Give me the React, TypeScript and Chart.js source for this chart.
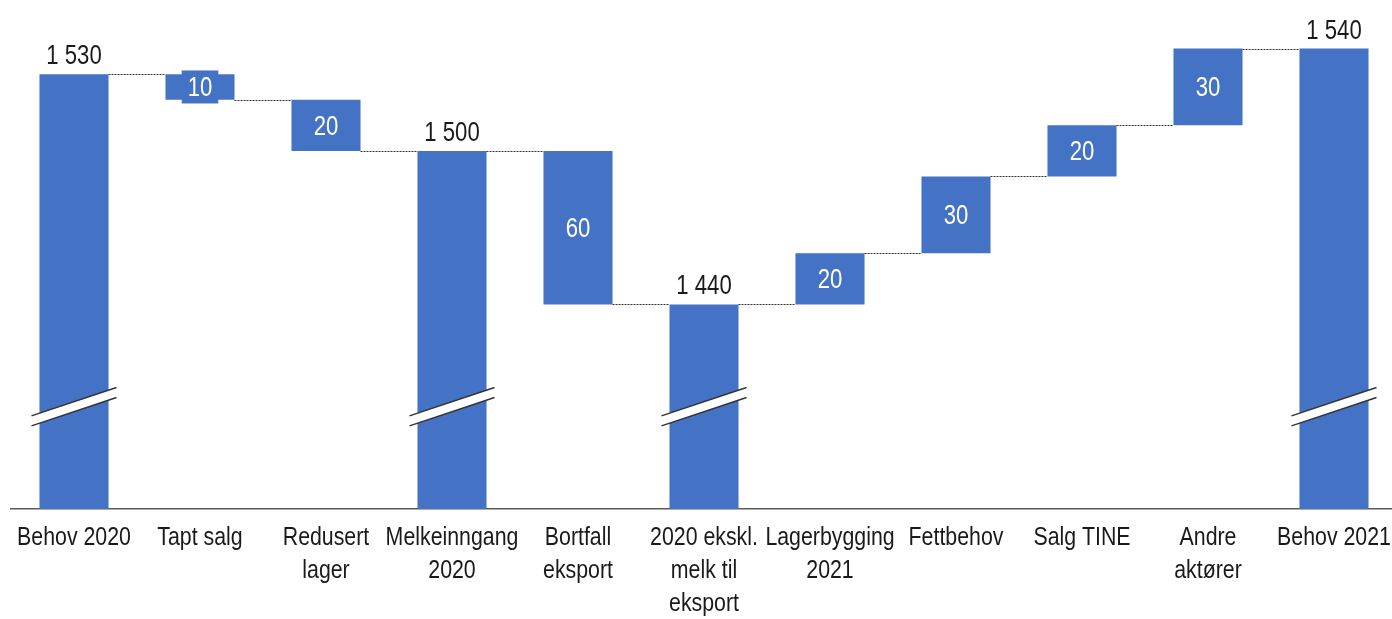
import React, { useEffect, useRef } from "react";
import { Chart, registerables } from "chart.js";

Chart.register(...registerables);

// ---- Data ----
const categories: string[][] = [
  ["Behov 2020"],
  ["Tapt salg"],
  ["Redusert", "lager"],
  ["Melkeinngang", "2020"],
  ["Bortfall", "eksport"],
  ["2020 ekskl.", "melk til", "eksport"],
  ["Lagerbygging", "2021"],
  ["Fettbehov"],
  ["Salg TINE"],
  ["Andre", "aktører"],
  ["Behov 2021"],
];
// totals are absolute levels, the others are changes
const stepValues = [1530, -10, -20, 1500, -60, 1440, 20, 30, 20, 30, 1540];
const isTotal = [true, false, false, true, false, true, false, false, false, false, true];

const axisMin = 1360;
const axisMax = 1559;
const breakValue = 1400;

const BAR_COLOR = "#4472C4";
const FONT = "'Liberation Sans', Arial, sans-serif";
const NARROW = 0.82; // horizontal squeeze to mimic a narrow face

function buildBars(): [number, number][] {
  let run = 0;
  return stepValues.map((v, i) => {
    if (isTotal[i]) {
      run = v;
      return [axisMin, v] as [number, number];
    }
    const start = run;
    run += v;
    return [start, run] as [number, number];
  });
}

function fmt(v: number): string {
  const s = String(Math.abs(v));
  return s.replace(/\B(?=(\d{3})+(?!\d))/g, " ");
}

function narrowText(
  ctx: CanvasRenderingContext2D,
  text: string,
  x: number,
  y: number,
  size: number,
  color: string,
  baseline: CanvasTextBaseline
) {
  ctx.save();
  ctx.font = `${size}px ${FONT}`;
  ctx.fillStyle = color;
  ctx.textAlign = "center";
  ctx.textBaseline = baseline;
  ctx.translate(x, y);
  ctx.scale(NARROW, 1);
  ctx.fillText(text, 0, 0);
  ctx.restore();
}

function narrowWidth(ctx: CanvasRenderingContext2D, text: string, size: number) {
  ctx.save();
  ctx.font = `${size}px ${FONT}`;
  const w = ctx.measureText(text).width * NARROW;
  ctx.restore();
  return w;
}

const waterfallPlugin = {
  id: "waterfallExtras",
  afterDatasetsDraw(chart: any) {
    const ctx: CanvasRenderingContext2D = chart.ctx;
    const meta = chart.getDatasetMeta(0);
    const yScale = chart.scales.y;
    const bars: [number, number][] = chart.data.datasets[0].data;
    const els = meta.data;

    // connectors
    ctx.save();
    ctx.strokeStyle = "#333333";
    ctx.lineWidth = 1;
    ctx.setLineDash([2, 1]);
    for (let i = 0; i < els.length - 1; i++) {
      const a = els[i];
      const b = els[i + 1];
      const level = bars[i][1];
      const y = Math.round(yScale.getPixelForValue(level)) + 0.5;
      ctx.beginPath();
      ctx.moveTo(a.x + a.width / 2, y);
      ctx.lineTo(b.x - b.width / 2, y);
      ctx.stroke();
    }
    ctx.restore();

    // axis breaks on total bars
    ctx.save();
    const yc = yScale.getPixelForValue(breakValue);
    for (let i = 0; i < els.length; i++) {
      if (!isTotal[i]) continue;
      const el = els[i];
      const half = el.width / 2 + 8;
      const slope = 1 / 3;
      const th = 10;
      const xl = el.x - half;
      const xr = el.x + half;
      const yl = yc + half * slope;
      const yr = yc - half * slope;
      ctx.fillStyle = "#ffffff";
      ctx.beginPath();
      ctx.moveTo(xl, yl - th / 2);
      ctx.lineTo(xr, yr - th / 2);
      ctx.lineTo(xr, yr + th / 2);
      ctx.lineTo(xl, yl + th / 2);
      ctx.closePath();
      ctx.fill();
      ctx.strokeStyle = "#333333";
      ctx.lineWidth = 1.5;
      ctx.beginPath();
      ctx.moveTo(xl, yl - th / 2);
      ctx.lineTo(xr, yr - th / 2);
      ctx.moveTo(xl, yl + th / 2);
      ctx.lineTo(xr, yr + th / 2);
      ctx.stroke();
    }
    ctx.restore();

    // value labels
    for (let i = 0; i < els.length; i++) {
      const el = els[i];
      const [lo, hi] = bars[i];
      if (isTotal[i]) {
        narrowText(ctx, fmt(hi), el.x, yScale.getPixelForValue(hi) - 10, 27, "#1a1a1a", "alphabetic");
      } else {
        const txt = fmt(stepValues[i]);
        const mid = (yScale.getPixelForValue(lo) + yScale.getPixelForValue(hi)) / 2;
        const tw = narrowWidth(ctx, txt, 27);
        ctx.save();
        ctx.fillStyle = BAR_COLOR;
        ctx.fillRect(el.x - tw / 2 - 6, mid - 16.5, tw + 12, 33);
        ctx.restore();
        narrowText(ctx, txt, el.x, mid + 9.5, 27, "#ffffff", "alphabetic");
      }
    }

    // category labels
    const bottom = chart.chartArea.bottom;
    for (let i = 0; i < els.length; i++) {
      const lines = categories[i];
      lines.forEach((line, k) => {
        narrowText(ctx, line, els[i].x, bottom + 36 + k * 33, 26, "#1a1a1a", "alphabetic");
      });
    }
  },
};

export default function App() {
  const canvasRef = useRef<HTMLCanvasElement | null>(null);

  useEffect(() => {
    if (!canvasRef.current) return;
    const chart = new Chart(canvasRef.current, {
      type: "bar",
      data: {
        labels: categories.map((c) => c.join(" ")),
        datasets: [
          {
            data: buildBars() as any,
            backgroundColor: BAR_COLOR,
            borderWidth: 0,
            barPercentage: 1,
            categoryPercentage: 0.548,
          },
        ],
      },
      options: {
        responsive: false,
        animation: false,
        devicePixelRatio: 1,
        layout: { padding: { left: 11, right: 3, top: 0, bottom: 0 } },
        plugins: {
          legend: { display: false },
          tooltip: { enabled: false },
          title: { display: false },
        },
        scales: {
          x: {
            grid: { display: false, drawTicks: false },
            border: { display: true, color: "#5a5a5a", width: 1.5 },
            ticks: { display: false },
            afterFit: (scale: any) => {
              scale.height = 110;
            },
          },
          y: {
            display: false,
            min: axisMin,
            max: axisMax,
          },
        },
      },
      plugins: [waterfallPlugin],
    });
    return () => chart.destroy();
  }, []);

  return (
    <div
      style={{
        position: "fixed",
        left: 0,
        top: 0,
        width: 1392,
        height: 619,
        overflow: "hidden",
        background: "#ffffff",
      }}
    >
      <canvas ref={canvasRef} width={1400} height={619} style={{ display: "block" }} />
    </div>
  );
}
